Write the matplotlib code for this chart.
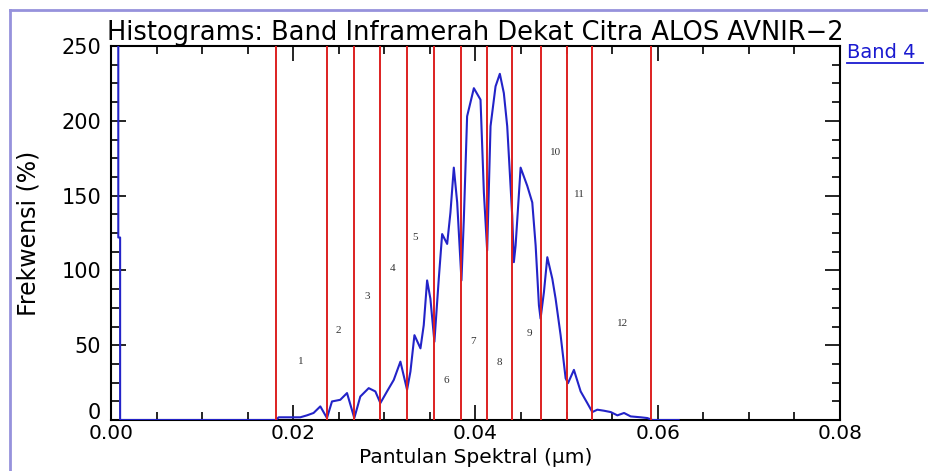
import matplotlib
matplotlib.use("Agg")
from matplotlib import pyplot as plt
from matplotlib.lines import Line2D
from matplotlib.transforms import ScaledTranslation
from matplotlib.ticker import MultipleLocator, FormatStrFormatter

# kurva histogram band 4
curve_x = [
    0.0008, 0.0008, 0.0010, 0.0010, 0.0150, 0.01813, 0.01839, 0.02077,
    0.0215, 0.02223, 0.02297, 0.0237, 0.02425, 0.02516, 0.0259, 0.0267,
    0.02736, 0.02828, 0.02901, 0.02956, 0.03029, 0.03103, 0.03176, 0.03249,
    0.03286, 0.0333, 0.03396, 0.03432, 0.03469, 0.03505, 0.03549, 0.03597,
    0.03634, 0.03689, 0.03725, 0.03762, 0.03799, 0.03846, 0.03872, 0.03908,
    0.03982, 0.04055, 0.04092, 0.04128, 0.04165, 0.0422, 0.04267, 0.04311,
    0.04348, 0.04403, 0.04421, 0.0444, 0.04495, 0.04568, 0.04623, 0.0466,
    0.04696, 0.04714, 0.04751, 0.04788, 0.04843, 0.04879, 0.04934, 0.04989,
    0.05015, 0.0508, 0.05154, 0.05227, 0.05282, 0.05337, 0.0541, 0.05484,
    0.05557, 0.0563, 0.05703, 0.05813, 0.05886, 0.05941, 0.0623,
]
curve_y = [
    400, 122, 122, 0, 0, 0, 1.8, 1.8,
    3.1, 4.7, 9.1, 1.3, 12.4, 13.5, 18, 1.3,
    15.7, 21.3, 19.1, 11.3, 19.1, 26.8, 39, 20.2,
    32.4, 56.7, 47.9, 63.4, 93.3, 81.1, 52.3, 94.4,
    124.3, 117.7, 138.7, 168.7, 145.4, 93.3, 134.3, 203,
    221.8, 214.1, 152, 113.3, 196.4, 223, 231.4, 218.5,
    196.4, 136.5, 105.5, 116.6, 168.7, 156.5, 145.4, 116.6,
    76.7, 67.8, 85.5, 108.8, 94.4, 81.1, 56.7, 27.9,
    24.6, 33.5, 19.1, 11.3, 5.3, 6.9, 6.2, 5.3,
    3.1, 4.7, 2.4, 1.8, 1.3, 0, 0,
]

# batas kelas (garis merah)
batas = [0.01813, 0.0237, 0.02663, 0.02948, 0.03249, 0.03549, 0.03846,
         0.04128, 0.04403, 0.04714, 0.05008, 0.05282, 0.05923]

# nomor kelas dan posisinya
kelas = ["1", "2", "3", "4", "5", "6", "7", "8", "9", "10", "11", "12"]
kelas_x = [0.02085, 0.02499, 0.02809, 0.03091, 0.03334, 0.03678, 0.0397,
           0.04267, 0.04586, 0.04879, 0.05136, 0.05612]
kelas_y = [39, 60, 82.4, 101.4, 122, 26.7, 52.3, 38.6, 57.8, 178.6, 150.8, 64.6]

# tick sumbu
xticks = [0.00, 0.02, 0.04, 0.06, 0.08]
yticks = [0, 50, 100, 150, 200, 250]

W, H = 929, 471
fig = plt.figure(figsize=(W / 100, H / 100), dpi=100)
ax = fig.add_axes([111 / W, 1 - 420 / H, (840 - 111) / W, (420 - 46) / H])

ax.plot(curve_x, curve_y, color="#2323c8", lw=1.5, zorder=2.6)
for b in batas:
    ax.axvline(b, color="#dd2020", lw=1.4, zorder=3)
for t, x, y in zip(kelas, kelas_x, kelas_y):
    ax.text(x, y, t, fontsize=8, family="Liberation Serif", color="#333333",
            ha="center", va="center", zorder=4)

ax.set_xlim(0, 0.08)
ax.set_ylim(0, 250)
ax.set_xticks(xticks)
ax.xaxis.set_minor_locator(MultipleLocator(0.005))
ax.xaxis.set_major_formatter(FormatStrFormatter("%.2f"))
ax.set_yticks(yticks)
ax.yaxis.set_minor_locator(MultipleLocator(12.5))

ax.tick_params(which="both", direction="in", top=True, right=True,
               color="black", width=1.2)
ax.tick_params(which="major", length=11)
ax.tick_params(which="minor", length=5.5)
ax.tick_params(axis="y", which="major", pad=7, labelsize=15)
ax.tick_params(axis="x", which="major", pad=3, labelsize=14.5)
for s in ax.spines.values():
    s.set_linewidth(1.5)

# label "0" di sumbu y sedikit dinaikkan seperti aslinya
nol = ax.yaxis.get_major_ticks()[0].label1
nol.set_transform(nol.get_transform()
                  + ScaledTranslation(0, 9 / 100, fig.dpi_scale_trans))

ax.set_title("Histograms: Band Inframerah Dekat Citra ALOS AVNIR\u22122",
             fontsize=18.5, pad=3)
ax.set_xlabel("Pantulan Spektral (\u03bcm)", fontsize=14.5)
ax.xaxis.set_label_coords(0.5, -28 / 374)
ax.set_ylabel("Frekwensi (%)", fontsize=17)
ax.yaxis.set_label_coords(-0.097, 0.5)

# legenda "Band 4" bergaris bawah
fig.text(847 / W, 1 - 52 / H, "Band 4", color="#1a1ad0", fontsize=14,
         ha="left", va="center")
fig.add_artist(Line2D([847 / W, 923 / W], [1 - 63 / H, 1 - 63 / H],
                      color="#1a1ad0", lw=1.3))

# bingkai luar
fx, fy = 10 / W, 1 - 10 / H
fig.add_artist(Line2D([fx, 1], [fy, fy], color="#9692dc", lw=2))
fig.add_artist(Line2D([fx, fx], [0, fy], color="#9692dc", lw=2))

fig.savefig("out.png", dpi=100)
